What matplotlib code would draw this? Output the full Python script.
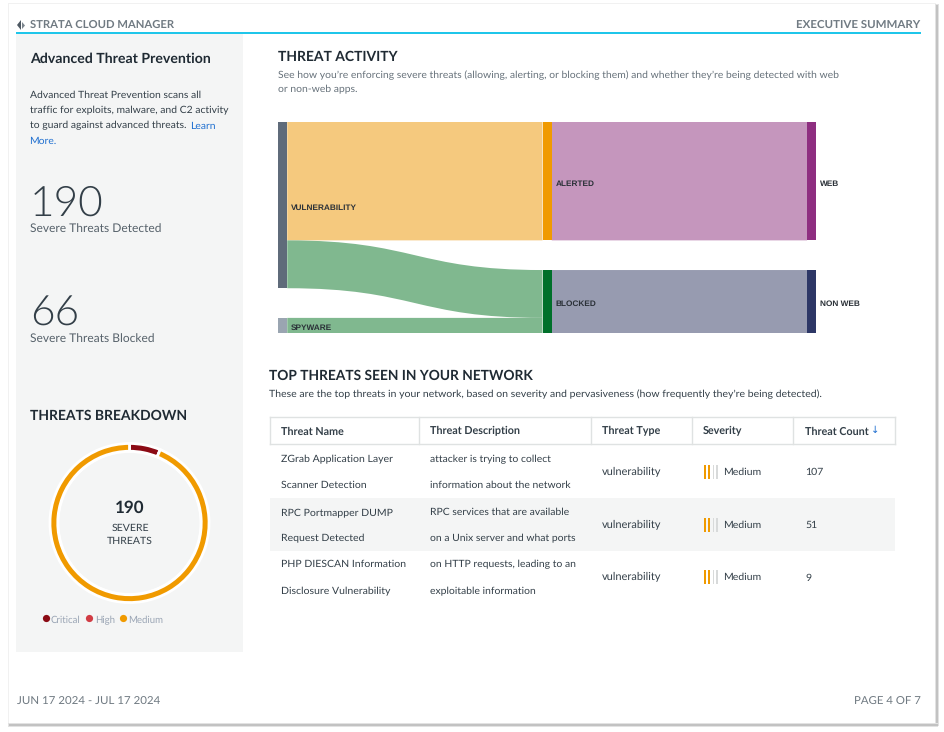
import matplotlib
matplotlib.use("Agg")
from matplotlib import pyplot as plt
from matplotlib.patches import PathPatch, Rectangle, Polygon
from matplotlib.path import Path

# sankey data (threat counts)
source_nodes = ["VULNERABILITY", "SPYWARE"]
action_nodes = ["ALERTED", "BLOCKED"]
app_nodes = ["WEB", "NON WEB"]
vuln_flows = [124, 50]
spyware_flows = [0, 16]
web_flows = [124, 0]
nonweb_flows = [0, 66]

# donut data
donut_labels = ["Critical", "High", "Medium"]
donut_values = [12, 0, 178]
donut_colors = ["#8B0A14", "#D13C44", "#F09A00"]

# table data
table_columns = ["Threat Name", "Threat Description", "Threat Type", "Severity", "Threat Count"]
threat_names = [("ZGrab Application Layer", "Scanner Detection"),
                ("RPC Portmapper DUMP", "Request Detected"),
                ("PHP DIESCAN Information", "Disclosure Vulnerability")]
threat_descriptions = [("attacker is trying to collect", "information about the network"),
                       ("RPC services that are available", "on a Unix server and what ports"),
                       ("on HTTP requests, leading to an", "exploitable information")]
threat_types = ["vulnerability", "vulnerability", "vulnerability"]
threat_severity = ["Medium", "Medium", "Medium"]
threat_counts = [107, 51, 9]

W, H = 944, 732
plt.rcParams["font.family"] = ["Lato", "DejaVu Sans"]
plt.rcParams["text.hinting"] = "no_hinting"

fig = plt.figure(figsize=(W / 100, H / 100), dpi=100)
page = fig.add_axes([0, 0, 1, 1])
page.set_xlim(0, W)
page.set_ylim(H, 0)
page.axis("off")


def px(size):
    return size * 0.72


def label(x, y, s, size=13, color="#333f48", **kw):
    kw.setdefault("va", "center")
    return page.text(x, y + 0.8, s, fontsize=px(size), color=color, **kw)


def rect(x0, y0, x1, y1, color, **kw):
    page.add_patch(Rectangle((x0, y0), x1 - x0, y1 - y0, facecolor=color, edgecolor="none", **kw))


# page edge
rect(8, 3, 936, 4, "#f1f1f1")
rect(8, 3, 9, 723, "#f1f1f1")
rect(934.5, 4, 939, 726, "#e2e2e2")
rect(935.5, 5, 938, 725, "#c2c2c2")
rect(8, 722.5, 938, 726.5, "#e2e2e2")
rect(9, 723.5, 938, 725.5, "#c2c2c2")

# header
page.add_patch(Polygon([(21, 20), (21, 30), (17, 25)], facecolor="#4e5963", edgecolor="none"))
page.add_patch(Polygon([(22, 22), (25, 25.5), (22, 29)], facecolor="#7b858d", edgecolor="none"))
label(30, 24, "STRATA CLOUD MANAGER", 11.2, "#707a82", weight="bold")
label(920, 24, "EXECUTIVE SUMMARY", 11.5, "#707a82", weight="bold", ha="right")
rect(16, 32, 921, 33.5, "#1fc6ea")

# left panel
rect(16, 33.5, 243, 652, "#f4f5f5")
label(30, 58, "Advanced Threat Prevention", 14.15, "#1f2a33", weight="bold")
for y, line in zip([94.5, 109.5, 125],
                   ["Advanced Threat Prevention scans all",
                    "traffic for exploits, malware, and C2 activity",
                    "to guard against advanced threats."]):
    label(30, y, line, 10.4)
label(190, 125, "Learn", 10.4, "#1f6fd0")
label(29.5, 140, "More.", 10.4, "#1f6fd0")

label(30, 203.5, "190", 42.4, "#333f48", weight=300)
label(30, 228, "Severe Threats Detected", 12, "#56616a")
label(30, 313.5, "66", 42.4, "#333f48", weight=300)
label(30, 338, "Severe Threats Blocked", 12, "#56616a")
label(30, 415, "THREATS BREAKDOWN", 13.85, "#1f2a33", weight="bold")

# donut
donut_ax = fig.add_axes([(129.5 - 82) / W, 1 - (523 + 82) / H, 164 / W, 164 / H])
donut_ax.pie([1], radius=0.98, colors=["white"], wedgeprops={"width": 0.125})
wedges, _ = donut_ax.pie(donut_values, colors=donut_colors, startangle=90, counterclock=False,
                         radius=0.97, wedgeprops={"width": 0.095, "edgecolor": "white", "linewidth": 2})
donut_ax.set_xlim(-1, 1)
donut_ax.set_ylim(-1, 1)
label(130, 507.5, "190", 17, "#1f2a33", ha="center", weight="bold")
label(130, 527.5, "SEVERE", 10.5, "#333f48", ha="center")
label(130, 540.5, "THREATS", 10.5, "#333f48", ha="center")
for x, color in zip([45.5, 89, 123], donut_colors):
    page.plot([x], [618], "o", ms=5.2, color=color, mew=0)
for x, name in zip([51, 95, 128], donut_labels):
    label(x, 619.8, name, 9.6, "#9aa5b5")

# threat activity
label(278, 56.5, "THREAT ACTIVITY", 13.95, "#1f2a33", weight="bold")
label(278, 74.5, "See how you\u2019re enforcing severe threats (allowing, alerting, or blocking them) and whether they\u2019re being detected with web", 10.38, "#66717a")
label(278, 89, "or non-web apps.", 10.38, "#66717a")

# sankey, y axis in threat counts, x axis in column numbers
node_w = 0.035
gap = 31
sankey = fig.add_axes([278 / W, 1 - 333.2 / H, 538.3 / W, 211.5 / H])
sankey.axis("off")
total = sum(vuln_flows) + sum(spyware_flows) + gap
sankey.set_xlim(0, 2 + node_w)
sankey.set_ylim(total, 0)

link_colors = ["#F5C97E", "#80B88F"]
app_link_colors = ["#C596BD", "#979BB0"]


def link(ax, x0, x1, y00, y01, y10, y11, color):
    mid = (x0 + x1) / 2
    verts = [(x0, y00), (mid, y00), (mid, y10), (x1, y10), (x1, y11), (mid, y11), (mid, y01), (x0, y01), (x0, y00)]
    codes = [Path.MOVETO, Path.CURVE4, Path.CURVE4, Path.CURVE4, Path.LINETO,
             Path.CURVE4, Path.CURVE4, Path.CURVE4, Path.CLOSEPOLY]
    ax.add_patch(PathPatch(Path(verts, codes), facecolor=color, edgecolor="none"))


def node(ax, col, y0, y1, color):
    ax.add_patch(Rectangle((col, y0), node_w, y1 - y0, facecolor=color, edgecolor="none", zorder=3))


def sankey_text(ax, x, y, s):
    ax.text(x, y, s, fontsize=px(8.3), family="Liberation Sans", weight="bold", color="#2b3138",
            va="center", zorder=4)


alerted = vuln_flows[0] + spyware_flows[0]
blocked = vuln_flows[1] + spyware_flows[1]
blocked_top = alerted + gap
vuln_total = sum(vuln_flows)
spy_top = vuln_total + gap
spy_total = sum(spyware_flows)

link(sankey, node_w, 1, 0, vuln_flows[0], 0, vuln_flows[0], link_colors[0])
link(sankey, node_w, 1, vuln_flows[0], vuln_total, blocked_top, blocked_top + vuln_flows[1], link_colors[1])
link(sankey, node_w, 1, spy_top, spy_top + spy_total, blocked_top + vuln_flows[1], blocked_top + blocked, link_colors[1])
link(sankey, 1 + node_w, 2, 0, web_flows[0], 0, web_flows[0], app_link_colors[0])
link(sankey, 1 + node_w, 2, blocked_top, blocked_top + nonweb_flows[1], blocked_top, blocked_top + nonweb_flows[1], app_link_colors[1])

node(sankey, 0, 0, vuln_total, "#5F6B7A")
node(sankey, 0, spy_top, spy_top + spy_total, "#9AA5B1")
node(sankey, 1, 0, alerted, "#F09A00")
node(sankey, 1, blocked_top, blocked_top + blocked, "#00702A")
node(sankey, 2, 0, sum(web_flows), "#8E2E80")
node(sankey, 2, blocked_top, blocked_top + sum(nonweb_flows), "#2D3766")

pad = 0.014
nudge = 2.8
sankey_text(sankey, node_w + pad, vuln_total / 2 + nudge, source_nodes[0])
sankey_text(sankey, node_w + pad, spy_top + spy_total / 2 + nudge, source_nodes[1])
sankey_text(sankey, 1 + node_w + pad, alerted / 2 + nudge, action_nodes[0])
sankey_text(sankey, 1 + node_w + pad, blocked_top + blocked / 2 + nudge, action_nodes[1])
sankey_text(sankey, 2 + node_w + pad, sum(web_flows) / 2 + nudge, app_nodes[0])
sankey_text(sankey, 2 + node_w + pad, blocked_top + sum(nonweb_flows) / 2 + nudge, app_nodes[1])

# top threats table
label(269, 375, "TOP THREATS SEEN IN YOUR NETWORK", 13.8, "#1f2a33", weight="bold")
label(269, 393.5, "These are the top threats in your network, based on severity and pervasiveness (how frequently they\u2019re being detected).", 10.45, "#333f48")

col_edges = [269.5, 419, 591, 691.5, 793, 895]
rect(269.5, 498, 895, 551, "#f4f5f5")
page.plot([col_edges[0], col_edges[-1]], [417, 417], color="#dfe2e2", lw=1)
page.plot([col_edges[0], col_edges[-1]], [444, 444], color="#dfe2e2", lw=1)
for x in col_edges:
    page.plot([x, x], [417, 444], color="#dfe2e2", lw=1)
for x, name in zip([281, 430, 602, 703, 805], table_columns):
    label(x, 430.5, name, 10.7, "#333f48", weight="bold")
page.text(875.5, 430, "\u2193", fontsize=px(10), color="#1f6fd0", va="center", ha="center", family="DejaVu Sans")

row_mid = [471.5, 524.5, 577]
for i, mid in enumerate(row_mid):
    label(281, mid - 13.2, threat_names[i][0], 10.5)
    label(281, mid + 13.2, threat_names[i][1], 10.5)
    label(430, mid - 13.2, threat_descriptions[i][0], 10.4)
    label(430, mid + 13.2, threat_descriptions[i][1], 10.4)
    label(602, mid - 0.5, threat_types[i], 11)
    for k, bx in enumerate([704, 708, 712.5, 716]):
        color = "#F09A00" if k < 2 else "#d8dada"
        rect(bx, mid - 7, bx + (2.2 if k < 2 else 1.6), mid + 7, color)
    label(723, mid - 0.5, threat_severity[i], 10.5)
    label(805, mid + 0.3, str(threat_counts[i]), 10.5)

# footer
label(17, 701, "JUN 17 2024 - JUL 17 2024", 11.5, "#707a82")
label(921, 701, "PAGE 4 OF 7", 11.4, "#707a82", ha="right")

fig.savefig("out.png", dpi=100)
